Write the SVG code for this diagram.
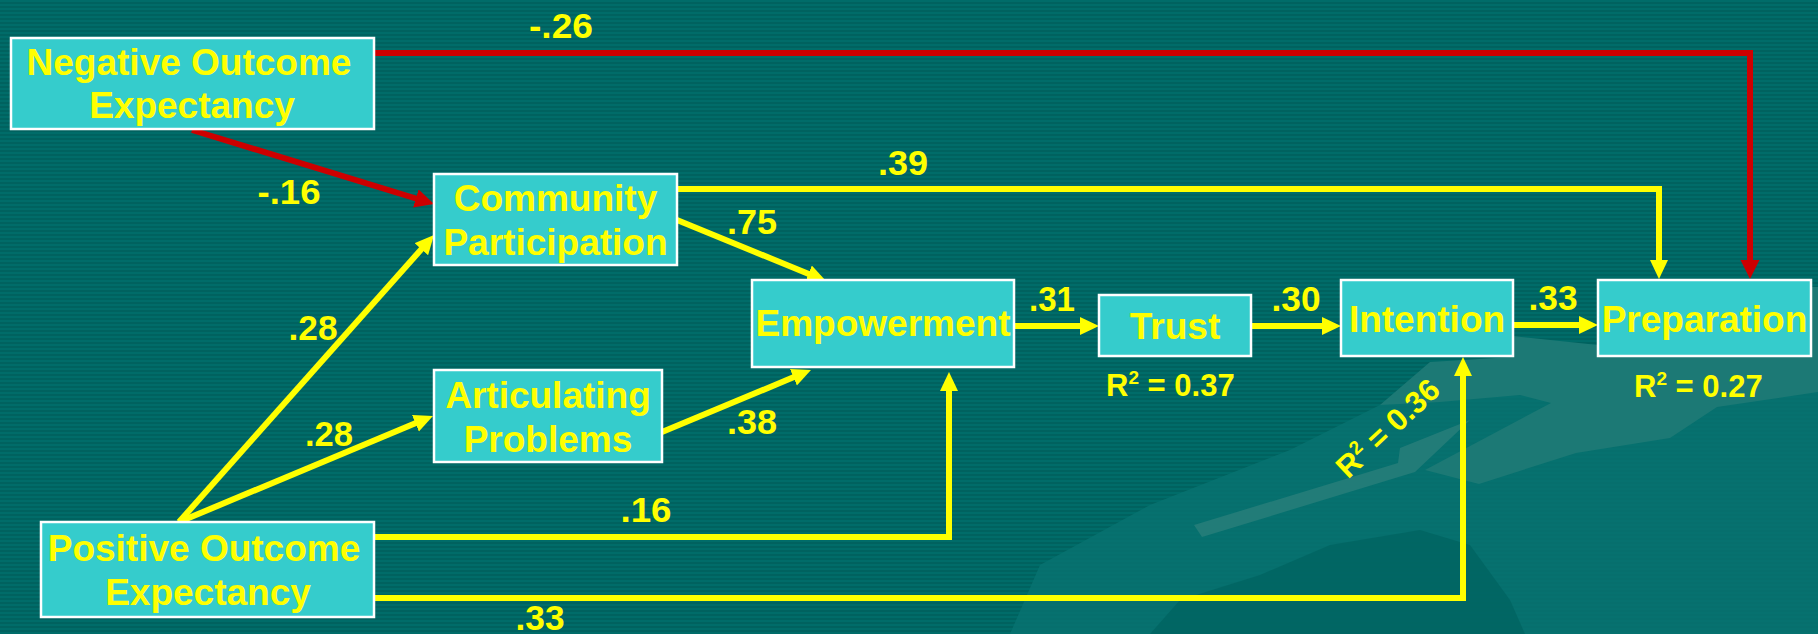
<svg xmlns="http://www.w3.org/2000/svg" width="1818" height="634" viewBox="0 0 1818 634">
  <defs>
    <pattern id="stripes" x="0" y="0" width="8" height="4" patternUnits="userSpaceOnUse">
      <rect width="8" height="4" fill="#00625f"/>
      <rect width="8" height="2" fill="#006c69"/>
    </pattern>
    <marker id="arrow-yellow" markerUnits="userSpaceOnUse" markerWidth="20" markerHeight="20" refX="7" refY="9" orient="auto">
      <path d="M0,0 L19,9 L0,18 z" fill="#ffff00"/>
    </marker>
    <marker id="arrow-red" markerUnits="userSpaceOnUse" markerWidth="21" markerHeight="21" refX="7" refY="9.5" orient="auto">
      <path d="M0,0 L19,9.5 L0,19 z" fill="#cc0000"/>
    </marker>
    <style>
      .node rect { fill: #35cccc; stroke: #ffffff; stroke-width: 2.5; }
      .node text { font-family: "Liberation Sans", Arial, sans-serif; font-weight: bold; font-size: 37px; fill: #ffff00; text-anchor: middle; }
      .label { font-family: "Liberation Sans", Arial, sans-serif; font-weight: bold; font-size: 35px; fill: #ffff00; text-anchor: middle; }
      .rsq { font-family: "Liberation Sans", Arial, sans-serif; font-weight: bold; font-size: 31px; fill: #ffff00; }
      .rsq .sup { font-size: 19px; }
      .pos { fill: none; stroke: #ffff00; stroke-width: 6; stroke-linejoin: miter; stroke-linecap: butt; marker-end: url(#arrow-yellow); }
      .neg { fill: none; stroke: #cc0000; stroke-width: 6; stroke-linejoin: miter; stroke-linecap: butt; marker-end: url(#arrow-red); }
    </style>
  </defs>

  <!-- striped slide background -->
  <rect width="1818" height="634" fill="url(#stripes)"/>

  <!-- decorative swoosh in the lower right -->
  <g id="swoosh">
    <path d="M1010,634 L1040,565 L1150,505 L1290,450 L1400,395 L1480,365 L1600,356 L1818,330 L1818,634 Z" fill="#087370" opacity="0.8"/>
    <path d="M1150,634 L1180,600 L1260,575 L1330,545 L1420,530 L1470,545 L1510,600 L1525,634 Z" fill="#00625f" opacity="0.7"/>
    <path d="M1380,405 L1430,362 L1513,357 L1600,357 L1810,287 L1818,287 L1818,392 L1717,407 L1670,438 L1576,453 L1479,484 L1425,470 L1551,403 L1520,395 L1440,402 Z" fill="#1c7975"/>
    <path d="M1194,525 L1398,463 L1400,448 L1470,420 L1415,472 L1202,537 Z" fill="#227c78"/>
    <path d="M1513,336 L1598,345 L1598,357 L1513,357 Z" fill="#1c7975"/>
  </g>

  <!-- path coefficients -->
  <g id="connectors">
    <path class="neg" d="M374,53 H1750 V267"/>
    <path class="neg" d="M192,130 L422.5,200.5"/>
    <path class="pos" d="M179,522 L426,244"/>
    <path class="pos" d="M179,522 L421.9,420.6"/>
    <path class="pos" d="M677,189 H1659 V267"/>
    <path class="pos" d="M677,220 L814.9,276.5"/>
    <path class="pos" d="M662,432 L799.9,374.6"/>
    <path class="pos" d="M374,537 H949 V384"/>
    <path class="pos" d="M374,598 H1463 V369"/>
    <path class="pos" d="M1014,326 H1087"/>
    <path class="pos" d="M1251,326 H1329"/>
    <path class="pos" d="M1513,325 H1586"/>
  </g>

  <g id="coefficients">
    <text class="label" x="561" y="38" textLength="64" lengthAdjust="spacingAndGlyphs">-.26</text>
    <text class="label" x="289" y="204" textLength="63" lengthAdjust="spacingAndGlyphs">-.16</text>
    <text class="label" x="313" y="340" textLength="49" lengthAdjust="spacingAndGlyphs">.28</text>
    <text class="label" x="329" y="446" textLength="48" lengthAdjust="spacingAndGlyphs">.28</text>
    <text class="label" x="752" y="234" textLength="50" lengthAdjust="spacingAndGlyphs">.75</text>
    <text class="label" x="903" y="175" textLength="50" lengthAdjust="spacingAndGlyphs">.39</text>
    <text class="label" x="752" y="434" textLength="50" lengthAdjust="spacingAndGlyphs">.38</text>
    <text class="label" x="1052" y="311" textLength="46" lengthAdjust="spacingAndGlyphs">.31</text>
    <text class="label" x="1296" y="311" textLength="49" lengthAdjust="spacingAndGlyphs">.30</text>
    <text class="label" x="1553" y="310" textLength="49" lengthAdjust="spacingAndGlyphs">.33</text>
    <text class="label" x="646" y="522" textLength="51" lengthAdjust="spacingAndGlyphs">.16</text>
    <text class="label" x="540" y="630" textLength="49" lengthAdjust="spacingAndGlyphs">.33</text>
  </g>

  <g id="variance">
    <text class="rsq" x="1106" y="396">R<tspan class="sup" dy="-12">2</tspan><tspan dy="12"> = 0.37</tspan></text>
    <text class="rsq" x="1634" y="397">R<tspan class="sup" dy="-12">2</tspan><tspan dy="12"> = 0.27</tspan></text>
    <text class="rsq" x="0" y="0" text-anchor="middle" transform="translate(1395,436) rotate(-43)">R<tspan class="sup" dy="-12">2</tspan><tspan dy="12"> = 0.36</tspan></text>
  </g>

  <g id="negative-outcome-expectancy" class="node">
    <rect x="11" y="38" width="363" height="91"/>
    <text x="189" y="75">Negative Outcome</text>
    <text x="192" y="118">Expectancy</text>
  </g>

  <g id="community-participation" class="node">
    <rect x="434" y="174" width="243" height="91"/>
    <text x="555.5" y="211">Community</text>
    <text x="555.5" y="255">Participation</text>
  </g>

  <g id="articulating-problems" class="node">
    <rect x="434" y="370" width="228" height="92"/>
    <text x="548" y="408">Articulating</text>
    <text x="548" y="452">Problems</text>
  </g>

  <g id="positive-outcome-expectancy" class="node">
    <rect x="41" y="522" width="333" height="95"/>
    <text x="204" y="561">Positive Outcome</text>
    <text x="208" y="605">Expectancy</text>
  </g>

  <g id="empowerment" class="node">
    <rect x="752" y="280" width="262" height="87"/>
    <text x="883" y="336">Empowerment</text>
  </g>

  <g id="trust" class="node">
    <rect x="1099" y="295" width="152" height="61"/>
    <text x="1175" y="339">Trust</text>
  </g>

  <g id="intention" class="node">
    <rect x="1341" y="280" width="172" height="76"/>
    <text x="1427" y="332">Intention</text>
  </g>

  <g id="preparation" class="node">
    <rect x="1598" y="280" width="213" height="76"/>
    <text x="1704.5" y="332">Preparation</text>
  </g>
</svg>
